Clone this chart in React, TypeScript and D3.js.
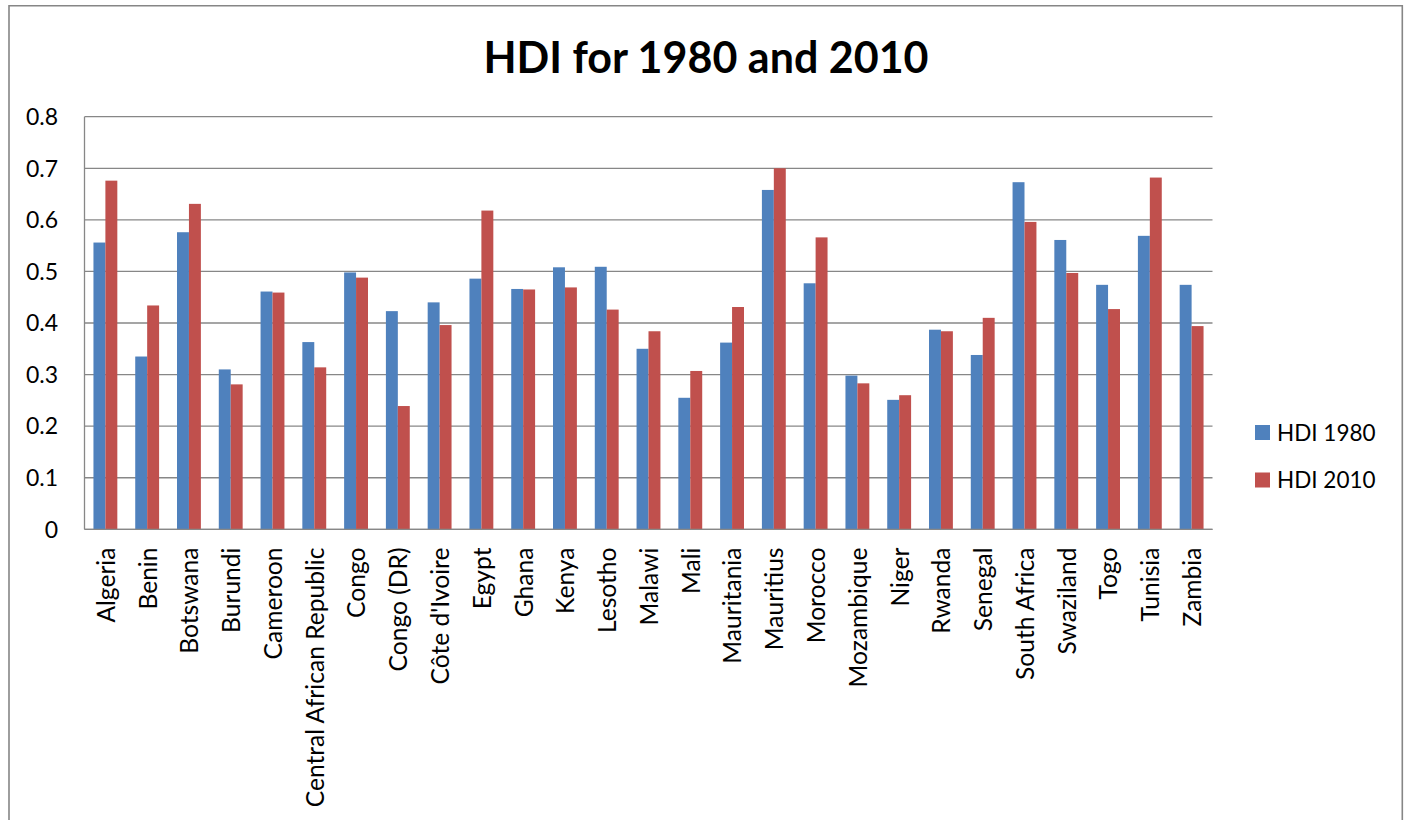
import React from "react";
import * as d3 from "d3";

const countries = [
  "Algeria", "Benin", "Botswana", "Burundi", "Cameroon", "Central African Republic",
  "Congo", "Congo (DR)", "Côte d'Ivoire", "Egypt", "Ghana", "Kenya", "Lesotho",
  "Malawi", "Mali", "Mauritania", "Mauritius", "Morocco", "Mozambique", "Niger",
  "Rwanda", "Senegal", "South Africa", "Swaziland", "Togo", "Tunisia", "Zambia",
];
const hdi1980 = [
  0.556, 0.335, 0.576, 0.310, 0.461, 0.363, 0.498, 0.423, 0.440, 0.486, 0.466, 0.508, 0.509,
  0.350, 0.255, 0.362, 0.658, 0.477, 0.298, 0.251, 0.387, 0.338, 0.673, 0.561, 0.474, 0.569, 0.474,
];
const hdi2010 = [
  0.676, 0.434, 0.631, 0.281, 0.459, 0.314, 0.488, 0.239, 0.396, 0.618, 0.465, 0.469, 0.426,
  0.384, 0.307, 0.431, 0.700, 0.566, 0.283, 0.260, 0.384, 0.410, 0.596, 0.497, 0.427, 0.682, 0.394,
];
const seriesNames = ["HDI 1980", "HDI 2010"];
const seriesColors = ["#4F81BD", "#C0504D"];
const yTicks = [0, 0.1, 0.2, 0.3, 0.4, 0.5, 0.6, 0.7, 0.8];
const title = "HDI for 1980 and 2010";

const FONT = "Lato, 'Open Sans', sans-serif";

export default function App() {
  const W = 1406, H = 820;
  const left = 84.5, right = 1212.5, top = 116.7, bottom = 529.3;
  const x0 = d3.scaleBand<string>().domain(countries).range([left, right])
    .paddingInner(1.5 / 3.5).paddingOuter(0.75 / 3.5);
  const x1 = d3.scaleBand<string>().domain(seriesNames).range([0, x0.bandwidth()]);
  const y = d3.scaleLinear().domain([0, 0.8]).range([bottom, top]);
  const series = [hdi1980, hdi2010];
  const grid = "#878787";

  return (
    <div style={{ position: "fixed", left: 0, top: 0 }}>
      <svg width={W} height={H} style={{ display: "block", background: "#fff" }} fontFamily={FONT}>
        <rect x={0} y={0} width={W} height={H} fill="#fff" />
        <path d={`M9,${H + 5} V5.8 H1402.3 V${H + 5}`} fill="none" stroke="#868686" strokeWidth={1.6} />
        <text x={706} y={73} textAnchor="middle" fontSize={43} fontWeight="bold" fill="#000">{title}</text>
        {yTicks.map((t) => (
          <g key={t}>
            <line x1={left} x2={right} y1={y(t)} y2={y(t)} stroke={grid} strokeWidth={1.3} />
            <text x={58} y={y(t)} dy="0.36em" textAnchor="end" fontSize={23} fill="#000">{String(t)}</text>
          </g>
        ))}
        <line x1={left} x2={left} y1={top} y2={bottom} stroke={grid} strokeWidth={1.3} />
        {countries.map((c, i) => (
          <g key={c}>
            {series.map((vals, s) => (
              <rect key={s} x={(x0(c) as number) + (x1(seriesNames[s]) as number)} y={y(vals[i])}
                width={x1.bandwidth()} height={bottom - y(vals[i])} fill={seriesColors[s]} />
            ))}
          </g>
        ))}
        <line x1={left} x2={right} y1={bottom} y2={bottom} stroke={grid} strokeWidth={1.3} />
        {countries.map((c) => {
          const cx = (x0(c) as number) + x0.bandwidth() / 2;
          return (
            <text key={c} transform={`translate(${cx + 0.5},547.5) rotate(-90)`} dy="0.36em" textAnchor="end"
              fontSize={24.6} fill="#000">{c}</text>
          );
        })}
        {seriesNames.map((n, s) => (
          <g key={n} transform={`translate(1255,${432.5 + s * 47.5})`}>
            <rect x={0} y={-7.5} width={15} height={15} fill={seriesColors[s]} />
            <text x={22} y={0} dy="0.36em" fontSize={22.5} fill="#000">{n}</text>
          </g>
        ))}
      </svg>
    </div>
  );
}
